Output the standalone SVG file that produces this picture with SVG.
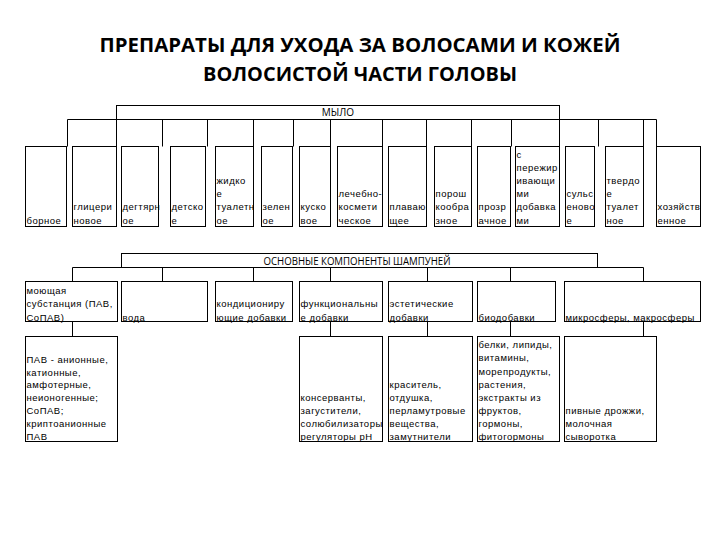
<svg xmlns="http://www.w3.org/2000/svg" width="720" height="540" viewBox="0 0 720 540">
<style>
.title{font-family:"Open Sans","Liberation Sans",sans-serif;font-weight:700;font-size:20px;fill:#000}
.hdr{font-family:"Open Sans","Liberation Sans",sans-serif;font-size:10px;fill:#000}
.t{font-family:"Liberation Sans",Arial,sans-serif;font-size:9.5px;letter-spacing:0.5px;fill:#000}
.box{fill:#fff;stroke:#000;stroke-width:1}
.ln{stroke:#000;stroke-width:1;fill:none}
</style>
<rect x="0" y="0" width="720" height="540" fill="#fff"/>
<g id="title">
<text class="title" x="360" y="52" text-anchor="middle" textLength="521" lengthAdjust="spacingAndGlyphs">ПРЕПАРАТЫ ДЛЯ УХОДА ЗА ВОЛОСАМИ И КОЖЕЙ</text>
<text class="title" x="360" y="81" text-anchor="middle" textLength="314" lengthAdjust="spacingAndGlyphs">ВОЛОСИСТОЙ ЧАСТИ ГОЛОВЫ</text>
</g>
<g id="connectors" class="ln">
<path d="M67.5 119.5H656.5"/>
<path d="M67.5 119.5V146.5M116.5 119.5V146.5M162.5 119.5V146.5M207.5 119.5V146.5M253.5 119.5V146.5M293.5 119.5V146.5M330.5 119.5V146.5M382.5 119.5V146.5M426.5 119.5V146.5M471.5 119.5V146.5M511.5 119.5V146.5M559.5 119.5V146.5M598.5 119.5V146.5M643.5 119.5V146.5M656.5 119.5V146.5"/>
<path d="M72.5 267.5H643.5"/>
<path d="M72.5 267.5V281.5M162.5 267.5V281.5M253.5 267.5V281.5M330.5 267.5V281.5M427.5 267.5V281.5M510.5 267.5V281.5M643.5 267.5V281.5"/>
<path d="M72.5 321.5V336.5M330.5 321.5V336.5M427.5 321.5V336.5M510.5 321.5V336.5M643.5 321.5V336.5"/>
</g>
<g id="n-mylo"><rect class="box" x="116.5" y="105.5" width="443" height="14"/><text class="hdr" x="338" y="115.5" text-anchor="middle">МЫЛО</text></g>
<g id="n-bornoe"><rect class="box" x="25.5" y="146.5" width="41" height="80"/><text class="t" x="26.5" y="223.5">борное</text></g>
<g id="n-glic"><rect class="box" x="72.5" y="146.5" width="44" height="80"/><text class="t" x="73.5"><tspan x="73.5" y="210.3">глицери</tspan><tspan x="73.5" y="223.5">новое</tspan></text></g>
<g id="n-degt"><rect class="box" x="121.5" y="146.5" width="37" height="80"/><text class="t"><tspan x="122.5" y="210.3">дегтярн</tspan><tspan x="122.5" y="223.5">ое</tspan></text></g>
<g id="n-det"><rect class="box" x="170.5" y="146.5" width="35" height="80"/><text class="t"><tspan x="171.5" y="210.3">детско</tspan><tspan x="171.5" y="223.5">е</tspan></text></g>
<g id="n-zhid"><rect class="box" x="215.5" y="146.5" width="38" height="80"/><text class="t"><tspan x="216.5" y="183.9">жидко</tspan><tspan x="216.5" y="197.1">е</tspan><tspan x="216.5" y="210.3">туалетн</tspan><tspan x="216.5" y="223.5">ое</tspan></text></g>
<g id="n-zel"><rect class="box" x="261.5" y="146.5" width="31" height="80"/><text class="t"><tspan x="262.5" y="210.3">зелен</tspan><tspan x="262.5" y="223.5">ое</tspan></text></g>
<g id="n-kusk"><rect class="box" x="299.5" y="146.5" width="31" height="80"/><text class="t"><tspan x="300.5" y="210.3">куско</tspan><tspan x="300.5" y="223.5">вое</tspan></text></g>
<g id="n-lech"><rect class="box" x="337.5" y="146.5" width="45" height="80"/><text class="t"><tspan x="338.5" y="197.1">лечебно-</tspan><tspan x="338.5" y="210.3">космети</tspan><tspan x="338.5" y="223.5">ческое</tspan></text></g>
<g id="n-plav"><rect class="box" x="388.5" y="146.5" width="38" height="80"/><text class="t"><tspan x="389.5" y="210.3">плаваю</tspan><tspan x="389.5" y="223.5">щее</tspan></text></g>
<g id="n-porosh"><rect class="box" x="434.5" y="146.5" width="37" height="80"/><text class="t"><tspan x="435.5" y="197.1">порош</tspan><tspan x="435.5" y="210.3">кообра</tspan><tspan x="435.5" y="223.5">зное</tspan></text></g>
<g id="n-prozr"><rect class="box" x="477.5" y="146.5" width="33" height="80"/><text class="t"><tspan x="478.5" y="210.3">прозр</tspan><tspan x="478.5" y="223.5">ачное</tspan></text></g>
<g id="n-perezh"><rect class="box" x="515.5" y="146.5" width="44" height="80"/><text class="t"><tspan x="516.5" y="157.5">с</tspan><tspan x="516.5" y="170.7">пережир</tspan><tspan x="516.5" y="183.9">ивающи</tspan><tspan x="516.5" y="197.1">ми</tspan><tspan x="516.5" y="210.3">добавка</tspan><tspan x="516.5" y="223.5">ми</tspan></text></g>
<g id="n-suls"><rect class="box" x="565.5" y="146.5" width="29" height="80"/><text class="t"><tspan x="566.5" y="197.1">сульс</tspan><tspan x="566.5" y="210.3">еново</tspan><tspan x="566.5" y="223.5">е</tspan></text></g>
<g id="n-tverd"><rect class="box" x="605.5" y="146.5" width="38" height="80"/><text class="t"><tspan x="606.5" y="183.9">твердо</tspan><tspan x="606.5" y="197.1">е</tspan><tspan x="606.5" y="210.3">туалет</tspan><tspan x="606.5" y="223.5">ное</tspan></text></g>
<g id="n-hoz"><rect class="box" x="656.5" y="146.5" width="44" height="80"/><text class="t"><tspan x="657.5" y="210.3">хозяйств</tspan><tspan x="657.5" y="223.5">енное</tspan></text></g>
<g id="n-osn"><rect class="box" x="121.5" y="253.5" width="476" height="14"/><text class="hdr" x="357" y="265" text-anchor="middle" textLength="187" lengthAdjust="spacingAndGlyphs">ОСНОВНЫЕ КОМПОНЕНТЫ ШАМПУНЕЙ</text></g>
<g id="n-moyu"><rect class="box" x="25.5" y="281.5" width="92" height="40"/><text class="t"><tspan x="26.5" y="294.1">моющая</tspan><tspan x="26.5" y="307.3">субстанция (ПАВ,</tspan><tspan x="26.5" y="320.5">СоПАВ)</tspan></text></g>
<g id="n-voda"><rect class="box" x="121.5" y="281.5" width="86" height="40"/><text class="t" x="122.5" y="320.5">вода</text></g>
<g id="n-kond"><rect class="box" x="215.5" y="281.5" width="77" height="40"/><text class="t"><tspan x="216.5" y="307.3">кондициониру</tspan><tspan x="216.5" y="320.5">ющие добавки</tspan></text></g>
<g id="n-func"><rect class="box" x="299.5" y="281.5" width="83" height="40"/><text class="t"><tspan x="300.5" y="307.3">функциональны</tspan><tspan x="300.5" y="320.5">е добавки</tspan></text></g>
<g id="n-est"><rect class="box" x="388.5" y="281.5" width="84" height="40"/><text class="t"><tspan x="389.5" y="307.3">эстетические</tspan><tspan x="389.5" y="320.5">добавки</tspan></text></g>
<g id="n-bio"><rect class="box" x="477.5" y="281.5" width="78" height="40"/><text class="t" x="478.5" y="320.5">биодобавки</text></g>
<g id="n-micro"><rect class="box" x="564.5" y="281.5" width="136" height="40"/><text class="t" x="565.5" y="320.5">микросферы, макросферы</text></g>
<g id="n-pav"><rect class="box" x="25.5" y="336.5" width="92" height="105"/><text class="t"><tspan x="26.5" y="362.6">ПАВ - анионные,</tspan><tspan x="26.5" y="375.5">катионные,</tspan><tspan x="26.5" y="388.4">амфотерные,</tspan><tspan x="26.5" y="401.3">неионогенные;</tspan><tspan x="26.5" y="414.2">СоПАВ;</tspan><tspan x="26.5" y="427.1">криптоанионные</tspan><tspan x="26.5" y="440">ПАВ</tspan></text></g>
<g id="n-kons"><rect class="box" x="299.5" y="336.5" width="83" height="105"/><text class="t"><tspan x="300.5" y="400.7">консерванты,</tspan><tspan x="300.5" y="413.8">загустители,</tspan><tspan x="300.5" y="426.9">солюбилизаторы</tspan><tspan x="300.5" y="440">регуляторы pH</tspan></text></g>
<g id="n-kras"><rect class="box" x="388.5" y="336.5" width="84" height="105"/><text class="t"><tspan x="389.5" y="387.6">краситель,</tspan><tspan x="389.5" y="400.7">отдушка,</tspan><tspan x="389.5" y="413.8">перламутровые</tspan><tspan x="389.5" y="426.9">вещества,</tspan><tspan x="389.5" y="440">замутнители</tspan></text></g>
<g id="n-belki"><rect class="box" x="477.5" y="336.5" width="82" height="105"/><text class="t"><tspan x="478.5" y="348.3">белки, липиды,</tspan><tspan x="478.5" y="361.4">витамины,</tspan><tspan x="478.5" y="374.5">морепродукты,</tspan><tspan x="478.5" y="387.6">растения,</tspan><tspan x="478.5" y="400.7">экстракты из</tspan><tspan x="478.5" y="413.8">фруктов,</tspan><tspan x="478.5" y="426.9">гормоны,</tspan><tspan x="478.5" y="440">фитогормоны</tspan></text></g>
<g id="n-pivn"><rect class="box" x="564.5" y="336.5" width="92" height="105"/><text class="t"><tspan x="565.5" y="413.8">пивные дрожжи,</tspan><tspan x="565.5" y="426.9">молочная</tspan><tspan x="565.5" y="440">сыворотка</tspan></text></g>
</svg>
